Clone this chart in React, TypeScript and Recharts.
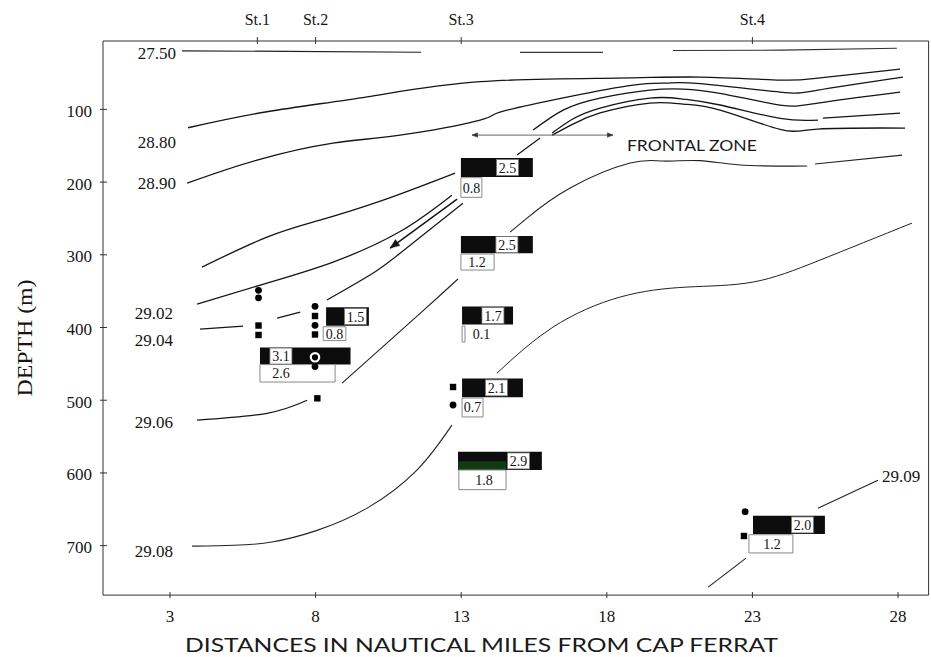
import React from 'react';
import { ComposedChart, Line, Scatter, XAxis, YAxis, ReferenceArea, ReferenceLine } from 'recharts';

// ---------- layout ----------
const W = 931;
const H = 657;
const PLOT_L = 103;
const PLOT_R = 928.6;
const PLOT_T = 41;
const PLOT_B = 595.1;
const X_MIN = 0.7;
const X_MAX = 29.05;
const D_MIN = 6;
const D_MAX = 768;
const KX = (PLOT_R - PLOT_L) / (X_MAX - X_MIN);
const KY = (PLOT_B - PLOT_T) / (D_MAX - D_MIN);

const SERIF = '"Liberation Serif", "DejaVu Serif", serif';
const SANS = 'Lato, "Noto Sans", sans-serif';
const INK = '#151515';

// ---------- axes ----------
const distanceTicks = [3, 8, 13, 18, 23, 28];
const depthTicks = [100, 200, 300, 400, 500, 600, 700];
const stationTicks = [6, 8, 13, 23];
const stationNames = ['St.1', 'St.2', 'St.3', 'St.4'];

// ---------- isopycnal / contour lines: [distance (nm), depth (m)] ----------
const iso2750West = [[3.41, 19.5], [7.0, 20.3], [11.62, 21.5]];
const iso2750Mid = [[15.02, 21.6], [17.87, 21.6]];
const iso2750East = [[20.27, 19.0], [24.0, 18.6], [27.96, 16.0]];
const iso2880 = [[3.62, 125.3], [6.33, 103.3], [9.77, 82.7], [13.65, 62.0], [18.35, 57.0], [21.2, 55.6], [23.95, 59.7], [25.25, 57.0], [28.07, 44.6]];
const iso2890 = [[3.59, 201.4], [5.99, 169.7], [8.6, 146.4], [10.9, 135.4], [13.65, 114.7], [14.33, 103.7], [16.63, 83.1], [18.9, 66.6], [20.07, 63.8], [21.2, 64.5], [23.95, 76.2], [25.25, 73.5], [28.17, 55.6]];
const frontC = [[15.47, 128.5], [16.5, 101.0], [17.77, 84.5], [19.48, 73.5], [20.62, 72.1], [21.89, 78.0], [23.95, 94.1], [25.25, 91.3], [28.07, 76.2]];
const frontD = [[16.12, 132.6], [16.8, 114.0], [17.77, 98.2], [19.48, 84.5], [20.62, 85.8], [21.89, 94.0], [23.95, 112.4], [25.25, 114.7]];
const frontDEast = [[25.42, 112.0], [28.07, 105.1]];
const frontE = [[16.12, 135.4], [16.8, 121.0], [17.77, 105.0], [19.48, 91.3], [20.62, 92.7], [21.89, 101.0], [23.95, 127.5], [25.25, 127.1], [28.24, 125.7]];
const stubToFront = [[14.92, 162.9], [15.71, 139.5]];
const westA = [[4.1, 316.9], [6.33, 275.7], [8.15, 252.3], [10.32, 224.8], [12.79, 187.6]];
const west2902 = [[3.93, 367.8], [6.33, 338.9], [8.6, 310.0], [10.9, 268.0], [12.68, 218.0]];
const iso2904a = [[4.03, 402.2], [5.51, 398.0]];
const iso2904b = [[6.68, 387.1], [7.47, 378.8]];
const iso2904c = [[8.39, 362.3], [9.87, 327.9], [10.9, 298.0], [13.06, 229.0]];
const iso2906West = [[3.93, 527.4], [6.33, 518.0], [7.71, 500.0]];
const iso2906Slope = [[8.91, 476.5], [11.59, 380.6], [12.89, 333.3]];
const iso2906Front = [[14.68, 268.8], [15.26, 249.5], [16.74, 208.2], [18.8, 173.9], [19.93, 171.1], [21.2, 170.5], [22.58, 176.6], [24.88, 178.0]];
const iso2906East = [[25.15, 175.2], [28.14, 162.9]];
const iso2908West = [[3.76, 700.7], [5.2, 699.5], [6.5, 695.0], [8.05, 679.0], [9.77, 648.4], [11.48, 596.1], [12.68, 534.3]];
const iso2908East = [[14.23, 462.7], [16.15, 399.5], [18.45, 358.2], [20.75, 344.4], [23.02, 337.5], [25.32, 307.3], [28.48, 256.4]];
const iso2909Upper = [[25.25, 648.4], [27.31, 609.9]];
const iso2909Lower = [[21.48, 757.1], [22.78, 717.2]];

// arrows
const flowArrow = [[12.86, 223.4], [10.56, 290.8]];
const frontalSpan = [[13.37, 135.4], [18.21, 135.4]];

// ---------- sampling markers ----------
const circleMarks = [[6.04, 348.9], [6.04, 359.2], [7.98, 370.9], [7.98, 397.0], [7.98, 453.7], [12.72, 506.6], [22.75, 653.3]];
const squareMarks = [[6.04, 397.3], [6.04, 410.3], [7.98, 384.2], [7.98, 409.6], [8.06, 497.4], [12.72, 481.8], [22.71, 686.7]];
const ringMarks = [[7.98, 441.0]];

// ---------- bars (value boxes) ----------
const blackBars = [
  { x0: 6.09, x1: 9.2, top: 427.5, bottom: 451, value: '3.1', labelX: 6.81 },
  { x0: 8.36, x1: 9.83, top: 372.3, bottom: 397.5, value: '1.5', labelX: 9.37 },
  { x0: 12.99, x1: 15.46, top: 167, bottom: 193, value: '2.5', labelX: 14.59 },
  { x0: 12.99, x1: 15.46, top: 274, bottom: 298, value: '2.5', labelX: 14.57 },
  { x0: 13.03, x1: 14.78, top: 371, bottom: 396, value: '1.7', labelX: 14.09 },
  { x0: 13.03, x1: 15.12, top: 470, bottom: 496, value: '2.1', labelX: 14.21 },
  { x0: 12.89, x1: 15.77, top: 571, bottom: 596, value: '2.9', labelX: 14.97 },
  { x0: 23.02, x1: 25.49, top: 659, bottom: 684, value: '2.0', labelX: 24.72 },
];
const whiteBars = [
  { x0: 6.09, x1: 8.67, top: 451, bottom: 475, value: '2.6', labelX: 6.81 },
  { x0: 8.26, x1: 9.04, top: 399, bottom: 418, value: '0.8', labelX: 8.65 },
  { x0: 12.99, x1: 13.71, top: 194, bottom: 221, value: '0.8', labelX: 13.35 },
  { x0: 12.99, x1: 14.13, top: 299, bottom: 321, value: '1.2', labelX: 13.54 },
  { x0: 13.03, x1: 13.13, top: 398, bottom: 420, value: '0.1', labelX: 13.7 },
  { x0: 13.03, x1: 13.75, top: 497, bottom: 523, value: '0.7', labelX: 13.39 },
  { x0: 12.92, x1: 14.54, top: 596, bottom: 623, value: '1.8', labelX: 13.78 },
  { x0: 22.88, x1: 24.39, top: 685, bottom: 710, value: '1.2', labelX: 23.67 },
];
const greenTint = [{ x0: 12.89, x1: 14.54, top: 584, bottom: 596 }];

// ---------- text labels ----------
const isoLabelsLeft = [
  { t: '27.50', x: 3.21, d: 22.6 },
  { t: '28.80', x: 3.21, d: 145.0 },
  { t: '28.90', x: 3.21, d: 201.3 },
  { t: '29.02', x: 3.1, d: 380.0 },
  { t: '29.04', x: 3.1, d: 417.2 },
  { t: '29.06', x: 3.1, d: 530.0 },
  { t: '29.08', x: 3.1, d: 707.3 },
];
const isoLabelsRight = [{ t: '29.09', x: 27.45, d: 604.2 }];
const zoneLabel = [{ t: 'FRONTAL ZONE', x: 18.69, d: 149.1 }];

const toPts = (arr: number[][]) => arr.map(([x, d]) => ({ x, d }));

const contours: { data: number[][]; w: number; c: string }[] = [
  { data: iso2750West, w: 1.2, c: '#222' },
  { data: iso2750Mid, w: 1.1, c: '#333' },
  { data: iso2750East, w: 1.1, c: '#333' },
  { data: iso2880, w: 1.3, c: INK },
  { data: iso2890, w: 1.3, c: INK },
  { data: frontC, w: 1.3, c: INK },
  { data: frontD, w: 1.3, c: INK },
  { data: frontDEast, w: 1.2, c: INK },
  { data: frontE, w: 1.3, c: INK },
  { data: stubToFront, w: 1.2, c: INK },
  { data: westA, w: 1.3, c: INK },
  { data: west2902, w: 1.3, c: INK },
  { data: iso2904a, w: 1.2, c: INK },
  { data: iso2904b, w: 1.2, c: INK },
  { data: iso2904c, w: 1.2, c: INK },
  { data: iso2906West, w: 1.2, c: INK },
  { data: iso2906Slope, w: 1.1, c: '#222' },
  { data: iso2906Front, w: 1.1, c: '#222' },
  { data: iso2906East, w: 1.1, c: '#222' },
  { data: iso2908West, w: 1.1, c: '#222' },
  { data: iso2908East, w: 1.0, c: '#222' },
  { data: iso2909Upper, w: 1.1, c: '#222' },
  { data: iso2909Lower, w: 1.1, c: '#222' },
];

function head(cx: number, cy: number, fx: number, fy: number, size: number, color: string, key: string) {
  const ang = Math.atan2(cy - fy, cx - fx);
  const a1 = ang + Math.PI - 0.38;
  const a2 = ang + Math.PI + 0.38;
  const p = `${cx},${cy} ${cx + size * Math.cos(a1)},${cy + size * Math.sin(a1)} ${cx + size * Math.cos(a2)},${cy + size * Math.sin(a2)}`;
  return <polygon key={key} points={p} fill={color} stroke={color} strokeWidth={0.5} />;
}

const makeArrowDot = (data: number[][], both: boolean, size: number, color: string) => (props: any) => {
  const { cx, cy, index } = props;
  const k = `ad-${index}`;
  const last = data.length - 1;
  if (index === last) {
    const [px, pd] = data[last - 1];
    const [x, d] = data[last];
    return head(cx, cy, cx - (x - px) * KX, cy - (d - pd) * KY, size, color, k);
  }
  if (both && index === 0) {
    const [nx, nd] = data[1];
    const [x, d] = data[0];
    return head(cx, cy, cx - (x - nx) * KX, cy - (d - nd) * KY, size, color, k);
  }
  return <g key={k} />;
};

const LeftTick = (p: any) => (
  <g>
    <line x1={p.x - 3} x2={p.x + 4} y1={p.y} y2={p.y} stroke="#333" strokeWidth={1} />
    <text x={p.x - 11} y={p.y + 7.5} textAnchor="end" fontFamily={SERIF} fontSize={17} fill={INK}>
      {p.payload.value}
    </text>
  </g>
);
const BottomTick = (p: any) => (
  <g>
    <line x1={p.x} x2={p.x} y1={p.y - 3} y2={p.y + 3} stroke="#333" strokeWidth={1} />
    <text x={p.x} y={p.y + 27} textAnchor="middle" fontFamily={SERIF} fontSize={17} fill={INK}>
      {p.payload.value}
    </text>
  </g>
);
const TopTick = (p: any) => {
  const i = stationTicks.indexOf(p.payload.value);
  return (
    <g>
      <line x1={p.x} x2={p.x} y1={p.y - 4} y2={p.y + 3} stroke="#333" strokeWidth={1} />
      <text x={p.x} y={p.y - 16} textAnchor="middle" fontFamily={SERIF} fontSize={16} fill={INK}>
        {stationNames[i] ?? ''}
      </text>
    </g>
  );
};

export default function App() {
  const blackLabels = blackBars.map((b) => ({ x: b.labelX, d: (b.top + b.bottom) / 2, t: b.value }));
  const whiteLabels = whiteBars.map((b) => ({ x: b.labelX, d: (b.top + b.bottom) / 2, t: b.value }));
  return (
    <div style={{ position: 'absolute', left: 0, top: 0, width: W, height: H, background: '#fff' }}>
      <ComposedChart
        width={W}
        height={H}
        margin={{ top: PLOT_T - 30, right: W - PLOT_R, bottom: H - PLOT_B - 30, left: PLOT_L - 60 }}
      >
        <XAxis
          xAxisId={0}
          dataKey="x"
          type="number"
          domain={[X_MIN, X_MAX]}
          allowDataOverflow
          ticks={distanceTicks}
          interval={0}
          height={30}
          tickSize={0}
          tickMargin={0}
          tickLine={false}
          axisLine={{ stroke: '#333', strokeWidth: 1 }}
          tick={(p: any) => <BottomTick {...p} />}
          label={{
            content: () => (
              <text x={481.5} y={652} textAnchor="middle" fontFamily={SANS} fontWeight={400} fontSize={19} fill="#1a1a1a" textLength={593} lengthAdjust="spacingAndGlyphs">
                DISTANCES IN NAUTICAL MILES FROM CAP FERRAT
              </text>
            ),
          }}
        />
        <XAxis
          xAxisId="top"
          orientation="top"
          dataKey="x"
          type="number"
          domain={[X_MIN, X_MAX]}
          allowDataOverflow
          ticks={stationTicks}
          interval={0}
          height={30}
          tickSize={0}
          tickMargin={0}
          tickLine={false}
          axisLine={{ stroke: '#333', strokeWidth: 1 }}
          tick={(p: any) => <TopTick {...p} />}
        />
        <YAxis
          dataKey="d"
          type="number"
          domain={[D_MIN, D_MAX]}
          reversed
          allowDataOverflow
          ticks={depthTicks}
          interval={0}
          width={60}
          tickSize={0}
          tickMargin={0}
          tickLine={false}
          axisLine={{ stroke: '#333', strokeWidth: 1 }}
          tick={(p: any) => <LeftTick {...p} />}
          label={{
            content: () => (
              <text x={32} y={338} transform="rotate(-90, 32, 338)" textAnchor="middle" fontFamily={SERIF} fontSize={22} fill={INK} textLength={117} lengthAdjust="spacingAndGlyphs">
                DEPTH (m)
              </text>
            ),
          }}
        />
        <ReferenceLine x={X_MAX} stroke="#333" strokeWidth={1} ifOverflow="visible" />

        {contours.map((c, i) => (
          <Line
            key={`c-${i}`}
            data={toPts(c.data)}
            dataKey="d"
            type="natural"
            stroke={c.c}
            strokeWidth={c.w}
            dot={false}
            activeDot={false}
            isAnimationActive={false}
          />
        ))}
        <Line
          data={toPts(flowArrow)}
          dataKey="d"
          type="linear"
          stroke={INK}
          strokeWidth={1.5}
          dot={makeArrowDot(flowArrow, false, 10, INK)}
          activeDot={false}
          isAnimationActive={false}
        />
        <Line
          data={toPts(frontalSpan)}
          dataKey="d"
          type="linear"
          stroke="#555"
          strokeWidth={0.9}
          dot={makeArrowDot(frontalSpan, true, 6, '#333')}
          activeDot={false}
          isAnimationActive={false}
        />

        {blackBars.map((b, i) => (
          <ReferenceArea key={`bb-${i}`} x1={b.x0} x2={b.x1} y1={b.top} y2={b.bottom} fill="#0d0d0d" fillOpacity={1} stroke="none" ifOverflow="visible" />
        ))}
        {greenTint.map((g, i) => (
          <ReferenceArea key={`g-${i}`} x1={g.x0} x2={g.x1} y1={g.top} y2={g.bottom} fill="#0f3a12" fillOpacity={1} stroke="none" ifOverflow="visible" />
        ))}
        {whiteBars.map((b, i) => (
          <ReferenceArea key={`wb-${i}`} x1={b.x0} x2={b.x1} y1={b.top} y2={b.bottom} fill="#fff" fillOpacity={1} stroke="#8a8a8a" strokeWidth={1} ifOverflow="visible" />
        ))}

        <Scatter
          data={blackLabels}
          dataKey="d"
          isAnimationActive={false}
          shape={(p: any) => (
            <g>
              <rect x={p.cx - 11} y={p.cy - 8} width={22} height={16} fill="#fff" stroke="#777" strokeWidth={0.8} />
              <text x={p.cx} y={p.cy + 5} textAnchor="middle" fontFamily={SERIF} fontSize={14} fill={INK}>
                {p.payload.t}
              </text>
            </g>
          )}
        />
        <Scatter
          data={whiteLabels}
          dataKey="d"
          isAnimationActive={false}
          shape={(p: any) => (
            <text x={p.cx} y={p.cy + 5} textAnchor="middle" fontFamily={SERIF} fontSize={14} fill={INK}>
              {p.payload.t}
            </text>
          )}
        />
        <Scatter
          data={toPts(circleMarks)}
          dataKey="d"
          isAnimationActive={false}
          shape={(p: any) => <circle cx={p.cx} cy={p.cy} r={3.4} fill="#000" />}
        />
        <Scatter
          data={toPts(squareMarks)}
          dataKey="d"
          isAnimationActive={false}
          shape={(p: any) => <rect x={p.cx - 3.2} y={p.cy - 3.2} width={6.4} height={6.4} fill="#000" />}
        />
        <Scatter
          data={toPts(ringMarks)}
          dataKey="d"
          isAnimationActive={false}
          shape={(p: any) => <circle cx={p.cx} cy={p.cy} r={4.2} fill="#000" stroke="#fff" strokeWidth={2.2} />}
        />
        <Scatter
          data={isoLabelsLeft}
          dataKey="d"
          isAnimationActive={false}
          shape={(p: any) => (
            <text x={p.cx} y={p.cy + 6} textAnchor="end" fontFamily={SERIF} fontSize={17} fill={INK}>
              {p.payload.t}
            </text>
          )}
        />
        <Scatter
          data={isoLabelsRight}
          dataKey="d"
          isAnimationActive={false}
          shape={(p: any) => (
            <text x={p.cx} y={p.cy + 6} textAnchor="start" fontFamily={SERIF} fontSize={17} fill={INK}>
              {p.payload.t}
            </text>
          )}
        />
        <Scatter
          data={zoneLabel}
          dataKey="d"
          isAnimationActive={false}
          shape={(p: any) => (
            <text x={p.cx} y={p.cy + 6} textAnchor="start" fontFamily={SANS} fontWeight={400} fontSize={16} fill="#1a1a1a" textLength={130} lengthAdjust="spacingAndGlyphs">
              {p.payload.t}
            </text>
          )}
        />
      </ComposedChart>
    </div>
  );
}
